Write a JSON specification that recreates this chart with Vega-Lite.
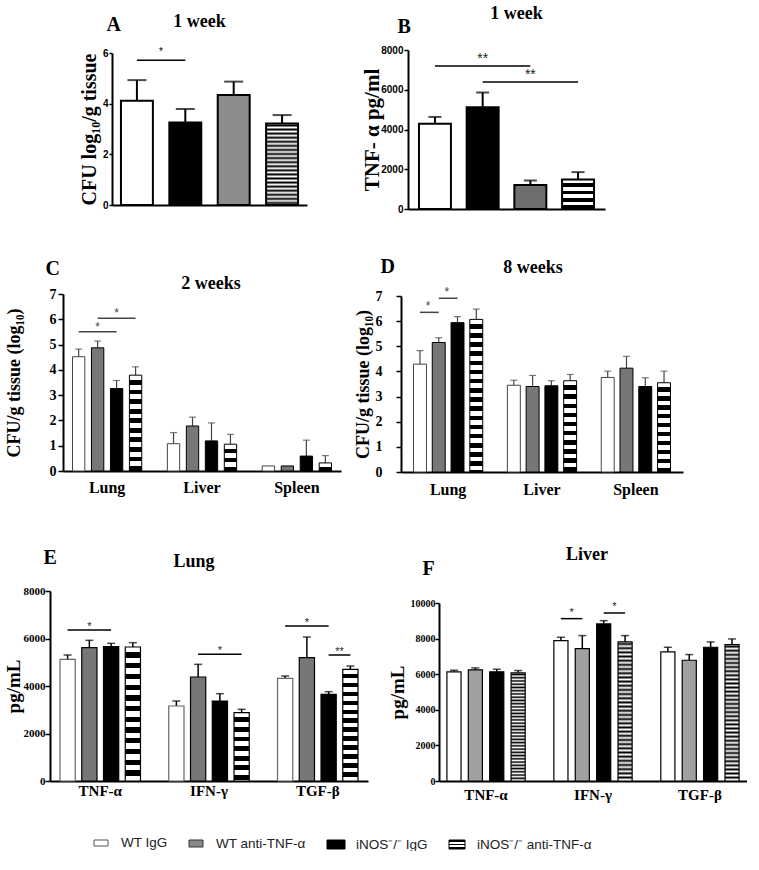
{
"$schema":"https://vega.github.io/schema/vega-lite/v6.json",
"padding":{"left":0,"top":5,"right":0,"bottom":0},
"config":{"view":{"stroke":null},"font":"Liberation Serif",
 "axis":{"grid":false,"labelOverlap":false,"labelBound":false,"labelFlush":false,"domainColor":"#000","tickColor":"#000","labelColor":"#000","titleColor":"#000","labelFontWeight":"bold","titleFontWeight":"bold","titleFont":"Liberation Serif","labelFont":"Liberation Serif"},
 "title":{"font":"Liberation Serif","fontWeight":"bold","color":"#000","anchor":"middle","frame":"group"}},
"datasets":{
 "A":[{"t":"WT IgG","mean":4.12,"hi":4.93},{"t":"iNOS-/- IgG","mean":3.26,"hi":3.79},{"t":"WT anti-TNF-α","mean":4.34,"hi":4.87},{"t":"iNOS-/- anti-TNF-α","mean":3.22,"hi":3.55}],
 "A_sig":[{"from":"WT IgG","to":"iNOS-/- IgG","y":5.71,"label":"*","after":"WT IgG"}],
 "B":[{"t":"WT IgG","mean":4295,"hi":4632},{"t":"iNOS-/- IgG","mean":5120,"hi":5861},{"t":"WT anti-TNF-α","mean":1213,"hi":1435},{"t":"iNOS-/- anti-TNF-α","mean":1486,"hi":1855}],
 "B_sig":[{"from":"WT IgG","to":"WT anti-TNF-α","y":7196,"label":"**","over":"iNOS-/- IgG"},{"from":"iNOS-/- IgG","to":"iNOS-/- anti-TNF-α","y":6388,"label":"**","over":"WT anti-TNF-α"}],
 "C":[
  {"bar":"Lung|1","t":"WT IgG","mean":4.52,"hi":4.82},{"bar":"Lung|2","t":"WT anti-TNF-α","mean":4.87,"hi":5.14},{"bar":"Lung|3","t":"iNOS-/- IgG","mean":3.26,"hi":3.58},{"bar":"Lung|4","t":"iNOS-/- anti-TNF-α","mean":3.79,"hi":4.12},
  {"bar":"Liver|1","t":"WT IgG","mean":1.08,"hi":1.52},{"bar":"Liver|2","t":"WT anti-TNF-α","mean":1.78,"hi":2.13},{"bar":"Liver|3","t":"iNOS-/- IgG","mean":1.19,"hi":1.9},{"bar":"Liver|4","t":"iNOS-/- anti-TNF-α","mean":1.06,"hi":1.45},
  {"bar":"Spleen|1","t":"WT IgG","mean":0.2,"hi":0.2},{"bar":"Spleen|2","t":"WT anti-TNF-α","mean":0.2,"hi":0.2},{"bar":"Spleen|3","t":"iNOS-/- IgG","mean":0.59,"hi":1.22},{"bar":"Spleen|4","t":"iNOS-/- anti-TNF-α","mean":0.32,"hi":0.61}],
 "C_sig":[{"from":"Lung|1","to":"Lung|3","y":5.51,"label":"*","over":"Lung|2"},{"from":"Lung|2","to":"Lung|4","y":6.04,"label":"*","over":"Lung|3"}],
 "D":[
  {"bar":"Lung|1","t":"WT IgG","mean":4.29,"hi":4.83},{"bar":"Lung|2","t":"WT anti-TNF-α","mean":5.15,"hi":5.34},{"bar":"Lung|3","t":"iNOS-/- IgG","mean":5.94,"hi":6.18},{"bar":"Lung|4","t":"iNOS-/- anti-TNF-α","mean":6.07,"hi":6.48},
  {"bar":"Liver|1","t":"WT IgG","mean":3.45,"hi":3.65},{"bar":"Liver|2","t":"WT anti-TNF-α","mean":3.4,"hi":3.84},{"bar":"Liver|3","t":"iNOS-/- IgG","mean":3.43,"hi":3.63},{"bar":"Liver|4","t":"iNOS-/- anti-TNF-α","mean":3.63,"hi":3.88},
  {"bar":"Spleen|1","t":"WT IgG","mean":3.76,"hi":4.01},{"bar":"Spleen|2","t":"WT anti-TNF-α","mean":4.13,"hi":4.6},{"bar":"Spleen|3","t":"iNOS-/- IgG","mean":3.4,"hi":3.75},{"bar":"Spleen|4","t":"iNOS-/- anti-TNF-α","mean":3.55,"hi":4.01}],
 "D_sig":[{"from":"Lung|1","to":"Lung|2","y":6.35,"label":"*","after":"Lung|1"},{"from":"Lung|2","to":"Lung|3","y":6.91,"label":"*","after":"Lung|2"}],
 "E":[
  {"bar":"TNF-α|1","t":"WT IgG","mean":5123,"hi":5305},{"bar":"TNF-α|2","t":"WT anti-TNF-α","mean":5614,"hi":5923},{"bar":"TNF-α|3","t":"iNOS-/- IgG","mean":5656,"hi":5796},{"bar":"TNF-α|4","t":"iNOS-/- anti-TNF-α","mean":5642,"hi":5825},
  {"bar":"IFN-γ|1","t":"WT IgG","mean":3158,"hi":3368},{"bar":"IFN-γ|2","t":"WT anti-TNF-α","mean":4379,"hi":4912},{"bar":"IFN-γ|3","t":"iNOS-/- IgG","mean":3368,"hi":3677},{"bar":"IFN-γ|4","t":"iNOS-/- anti-TNF-α","mean":2877,"hi":3018},
  {"bar":"TGF-β|1","t":"WT IgG","mean":4323,"hi":4421},{"bar":"TGF-β|2","t":"WT anti-TNF-α","mean":5193,"hi":6063},{"bar":"TGF-β|3","t":"iNOS-/- IgG","mean":3649,"hi":3761},{"bar":"TGF-β|4","t":"iNOS-/- anti-TNF-α","mean":4702,"hi":4842}],
 "E_sig":[{"from":"TNF-α|1","to":"TNF-α|3","y":6358,"label":"*","over":"TNF-α|2"},{"from":"IFN-γ|2","to":"IFN-γ|4","y":5333,"label":"*","over":"IFN-γ|3"},{"from":"TGF-β|1","to":"TGF-β|3","y":6526,"label":"*","over":"TGF-β|2"},{"from":"TGF-β|3","to":"TGF-β|4","y":5305,"label":"**","after":"TGF-β|3"}],
 "F":[
  {"bar":"TNF-α|1","t":"WT IgG","mean":6131,"hi":6224},{"bar":"TNF-α|2","t":"WT anti-TNF-α","mean":6243,"hi":6355},{"bar":"TNF-α|3","t":"iNOS-/- IgG","mean":6131,"hi":6280},{"bar":"TNF-α|4","t":"iNOS-/- anti-TNF-α","mean":6075,"hi":6206},
  {"bar":"IFN-γ|1","t":"WT IgG","mean":7888,"hi":8075},{"bar":"IFN-γ|2","t":"WT anti-TNF-α","mean":7439,"hi":8168},{"bar":"IFN-γ|3","t":"iNOS-/- IgG","mean":8822,"hi":9009},{"bar":"IFN-γ|4","t":"iNOS-/- anti-TNF-α","mean":7813,"hi":8168},
  {"bar":"TGF-β|1","t":"WT IgG","mean":7252,"hi":7514},{"bar":"TGF-β|2","t":"WT anti-TNF-α","mean":6785,"hi":7103},{"bar":"TGF-β|3","t":"iNOS-/- IgG","mean":7514,"hi":7813},{"bar":"TGF-β|4","t":"iNOS-/- anti-TNF-α","mean":7664,"hi":7981}],
 "F_sig":[{"from":"IFN-γ|1","to":"IFN-γ|2","y":9121,"label":"*","after":"IFN-γ|1"},{"from":"IFN-γ|3","to":"IFN-γ|4","y":9439,"label":"*","after":"IFN-γ|3"}]
},
"spacing":42,
"vconcat":[
 {"bounds":"flush","spacing":0,"hconcat":[
  {"width":112,"height":1,"data":{"values":[]},"mark":"rect","encoding":{}},
  {"width":195,"height":155,
   "title":{"text":"1 week","dx":-10,"dy":31,"offset":0,"baseline":"alphabetic","fontSize":18},
   "data":{"name":"A"},
   "layer":[
    {"transform":[{"filter":"datum.hi>datum.mean"}],"mark":{"type":"rule","strokeWidth":2,"color":"#000"},
     "encoding":{
      "x":{"field":"t","type":"nominal","scale":{"domain":["WT IgG","iNOS-/- IgG","WT anti-TNF-α","iNOS-/- anti-TNF-α"],"paddingInner":0.34,"paddingOuter":0.185},
           "axis":{"labels":false,"ticks":false,"domainWidth":2,"title":"A","titleX":-6,"titleY":-175,"titleAngle":0,"titleAlign":"left","titleBaseline":"alphabetic","titleFontSize":20}},
      "y":{"field":"mean","type":"quantitative","scale":{"domain":[0,6],"range":[155,3],"nice":false},
           "axis":{"values":[0,2,4,6],"tickCount":20,"labelOverlap":false,"format":"d","title":"CFU log₁₀/g tissue","titleFontSize":20,"titleX":-17,"titleBaseline":"alphabetic","labelFont":"Liberation Sans","labelFontSize":10,"tickSize":3,"labelPadding":1,"domainWidth":2,"tickWidth":1.5}},
      "y2":{"field":"hi"}}},
    {"transform":[{"filter":"datum.hi>datum.mean"}],"mark":{"type":"tick","size":19,"thickness":2,"color":"#000"},"encoding":{"x":{"field":"t","type":"nominal"},"y":{"field":"hi","type":"quantitative"}}},
    {"transform":[{"filter":"datum.t=='WT IgG'"}],"mark":{"type":"bar","fill":"#fff","stroke":"#000","strokeWidth":2},"encoding":{"x":{"field":"t","type":"nominal"},"y":{"field":"mean","type":"quantitative"}}},
    {"transform":[{"filter":"datum.t=='iNOS-/- IgG'"}],"mark":{"type":"bar","fill":"#000","stroke":"#000","strokeWidth":2},"encoding":{"x":{"field":"t","type":"nominal"},"y":{"field":"mean","type":"quantitative"}}},
    {"transform":[{"filter":"datum.t=='WT anti-TNF-α'"}],"mark":{"type":"bar","fill":"#8c8c8c","stroke":"#000","strokeWidth":2},"encoding":{"x":{"field":"t","type":"nominal"},"y":{"field":"mean","type":"quantitative"}}},
    {"transform":[{"filter":"datum.t=='iNOS-/- anti-TNF-α'"}],"mark":{"type":"bar","stroke":"#000","strokeWidth":2,"fill":{"gradient":"linear","x1":0,"y1":0,"x2":0,"y2":1,"stops":[{"offset":0,"color":"#fff"},{"offset":0.025,"color":"#000"},{"offset":0.05,"color":"#fff"},{"offset":0.075,"color":"#000"},{"offset":0.1,"color":"#fff"},{"offset":0.125,"color":"#000"},{"offset":0.15,"color":"#fff"},{"offset":0.175,"color":"#000"},{"offset":0.2,"color":"#fff"},{"offset":0.225,"color":"#000"},{"offset":0.25,"color":"#fff"},{"offset":0.275,"color":"#000"},{"offset":0.3,"color":"#fff"},{"offset":0.325,"color":"#000"},{"offset":0.35,"color":"#fff"},{"offset":0.375,"color":"#000"},{"offset":0.4,"color":"#fff"},{"offset":0.425,"color":"#000"},{"offset":0.45,"color":"#fff"},{"offset":0.475,"color":"#000"},{"offset":0.5,"color":"#fff"},{"offset":0.525,"color":"#000"},{"offset":0.55,"color":"#fff"},{"offset":0.575,"color":"#000"},{"offset":0.6,"color":"#fff"},{"offset":0.625,"color":"#000"},{"offset":0.65,"color":"#fff"},{"offset":0.675,"color":"#000"},{"offset":0.7,"color":"#fff"},{"offset":0.725,"color":"#000"},{"offset":0.75,"color":"#fff"},{"offset":0.775,"color":"#000"},{"offset":0.8,"color":"#fff"},{"offset":0.825,"color":"#000"},{"offset":0.85,"color":"#fff"},{"offset":0.875,"color":"#000"},{"offset":0.9,"color":"#fff"},{"offset":0.925,"color":"#000"},{"offset":0.95,"color":"#fff"},{"offset":0.975,"color":"#000"},{"offset":1,"color":"#fff"}]}},"encoding":{"x":{"field":"t","type":"nominal"},"y":{"field":"mean","type":"quantitative"}}},
    {"data":{"name":"A_sig"},"mark":{"type":"rule","strokeWidth":1.5,"color":"#000"},"encoding":{"x":{"field":"from","type":"nominal","bandPosition":0.5},"x2":{"field":"to","bandPosition":0.5},"y":{"field":"y","type":"quantitative"}}},
    {"data":{"name":"A_sig"},"transform":[{"filter":"isValid(datum.after)"}],"mark":{"type":"text","baseline":"alphabetic","dx":24,"dy":-5,"font":"Liberation Sans","fontSize":10,"color":"#000"},"encoding":{"x":{"field":"after","type":"nominal"},"y":{"field":"y","type":"quantitative"},"text":{"field":"label"}}}
   ]},
  {"width":101,"height":1,"data":{"values":[]},"mark":"rect","encoding":{}},
  {"width":197,"height":159,
   "title":{"text":"1 week","dx":10,"dy":21,"offset":0,"baseline":"alphabetic","fontSize":18},
   "data":{"name":"B"},
   "layer":[
    {"transform":[{"filter":"datum.hi>datum.mean"}],"mark":{"type":"rule","strokeWidth":2,"color":"#000"},
     "encoding":{
      "x":{"field":"t","type":"nominal","scale":{"domain":["WT IgG","iNOS-/- IgG","WT anti-TNF-α","iNOS-/- anti-TNF-α"],"paddingInner":0.33,"paddingOuter":0.23},
           "axis":{"labels":false,"ticks":false,"domainWidth":2,"title":"B","titleX":-11,"titleY":-177,"titleAngle":0,"titleAlign":"left","titleBaseline":"alphabetic","titleFontSize":20}},
      "y":{"field":"mean","type":"quantitative","scale":{"domain":[0,8000],"nice":false},
           "axis":{"values":[0,2000,4000,6000,8000],"tickCount":20,"format":"d","title":"TNF- α pg/ml","titleFontSize":21,"titleX":-30,"titleBaseline":"alphabetic","labelFont":"Liberation Sans","labelFontSize":10,"tickSize":4,"labelPadding":1,"domainWidth":2,"tickWidth":1.5}},
      "y2":{"field":"hi"}}},
    {"transform":[{"filter":"datum.hi>datum.mean"}],"mark":{"type":"tick","size":13,"thickness":2,"color":"#000"},"encoding":{"x":{"field":"t","type":"nominal"},"y":{"field":"hi","type":"quantitative"}}},
    {"transform":[{"filter":"datum.t=='WT IgG'"}],"mark":{"type":"bar","fill":"#fff","stroke":"#000","strokeWidth":2},"encoding":{"x":{"field":"t","type":"nominal"},"y":{"field":"mean","type":"quantitative"}}},
    {"transform":[{"filter":"datum.t=='iNOS-/- IgG'"}],"mark":{"type":"bar","fill":"#000","stroke":"#000","strokeWidth":2},"encoding":{"x":{"field":"t","type":"nominal"},"y":{"field":"mean","type":"quantitative"}}},
    {"transform":[{"filter":"datum.t=='WT anti-TNF-α'"}],"mark":{"type":"bar","fill":"#6e6e6e","stroke":"#000","strokeWidth":2},"encoding":{"x":{"field":"t","type":"nominal"},"y":{"field":"mean","type":"quantitative"}}},
    {"transform":[{"filter":"datum.t=='iNOS-/- anti-TNF-α'"}],"mark":{"type":"bar","stroke":"#000","strokeWidth":2,"fill":{"gradient":"linear","x1":0,"y1":0,"x2":0,"y2":1,"stops":[{"offset":0,"color":"#fff"},{"offset":0.125,"color":"#fff"},{"offset":0.125,"color":"#000"},{"offset":0.25,"color":"#000"},{"offset":0.25,"color":"#fff"},{"offset":0.375,"color":"#fff"},{"offset":0.375,"color":"#000"},{"offset":0.5,"color":"#000"},{"offset":0.5,"color":"#fff"},{"offset":0.625,"color":"#fff"},{"offset":0.625,"color":"#000"},{"offset":0.75,"color":"#000"},{"offset":0.75,"color":"#fff"},{"offset":0.875,"color":"#fff"},{"offset":0.875,"color":"#000"},{"offset":1,"color":"#000"}]}},"encoding":{"x":{"field":"t","type":"nominal"},"y":{"field":"mean","type":"quantitative"}}},
    {"data":{"name":"B_sig"},"mark":{"type":"rule","strokeWidth":1.5,"color":"#000"},"encoding":{"x":{"field":"from","type":"nominal","bandPosition":0.5},"x2":{"field":"to","bandPosition":0.5},"y":{"field":"y","type":"quantitative"}}},
    {"data":{"name":"B_sig"},"mark":{"type":"text","baseline":"alphabetic","dy":-3,"font":"Liberation Sans","fontSize":14,"color":"#222"},"encoding":{"x":{"field":"over","type":"nominal"},"y":{"field":"y","type":"quantitative"},"text":{"field":"label"}}}
   ]}
 ]},
 {"spacing":49,"vconcat":[
 {"bounds":"flush","spacing":0,"hconcat":[
  {"width":63,"height":1,"data":{"values":[]},"mark":"rect","encoding":{}},
  {"width":278,"height":177,
   "title":{"text":"2 weeks","dx":9,"dy":49,"offset":0,"baseline":"alphabetic","fontSize":18},
   "data":{"name":"C"},
   "layer":[
    {"transform":[{"filter":"datum.hi>datum.mean"}],"mark":{"type":"rule","strokeWidth":1.2,"color":"#444"},
     "encoding":{
      "x":{"field":"bar","type":"nominal","scale":{"domain":["Lung|1","Lung|2","Lung|3","Lung|4","_a","Liver|1","Liver|2","Liver|3","Liver|4","_b","Spleen|1","Spleen|2","Spleen|3","Spleen|4"],"paddingInner":0.35,"paddingOuter":0.5},
           "axis":{"labelExpr":"indexof(datum.value,'|2')>0 ? split(datum.value,'|')[0] : ''","labelOffset":9.5,"labelAngle":0,"ticks":false,"labelFontSize":16,"labelPadding":8,"domainWidth":2,"title":"C","titleX":-18,"titleY":-197,"titleAngle":0,"titleAlign":"left","titleBaseline":"alphabetic","titleFontSize":20}},
      "y":{"field":"mean","type":"quantitative","scale":{"domain":[0,7],"nice":false},
           "axis":{"values":[0,1,2,3,4,5,6,7],"tickCount":20,"format":"d","title":"CFU/g tissue (log₁₀)","titleFontSize":18,"titleX":-44,"titleBaseline":"alphabetic","labelFontSize":14,"tickSize":5,"labelPadding":2,"domainWidth":2,"tickWidth":1.5}},
      "y2":{"field":"hi"}}},
    {"transform":[{"filter":"datum.hi>datum.mean"}],"mark":{"type":"tick","size":7,"thickness":1.2,"color":"#444"},"encoding":{"x":{"field":"bar","type":"nominal"},"y":{"field":"hi","type":"quantitative"}}},
    {"transform":[{"filter":"datum.t=='WT IgG'"}],"mark":{"type":"bar","fill":"#fff","stroke":"#444","strokeWidth":1},"encoding":{"x":{"field":"bar","type":"nominal"},"y":{"field":"mean","type":"quantitative"}}},
    {"transform":[{"filter":"datum.t=='iNOS-/- IgG'"}],"mark":{"type":"bar","fill":"#000","stroke":"#000","strokeWidth":1},"encoding":{"x":{"field":"bar","type":"nominal"},"y":{"field":"mean","type":"quantitative"}}},
    {"transform":[{"filter":"datum.t=='WT anti-TNF-α'"}],"mark":{"type":"bar","fill":"#777","stroke":"#000","strokeWidth":1},"encoding":{"x":{"field":"bar","type":"nominal"},"y":{"field":"mean","type":"quantitative"}}},
    {"transform":[{"filter":"datum.bar=='Lung|4'"}],"mark":{"type":"bar","stroke":"#000","strokeWidth":1,"fill":{"gradient":"linear","x1":0,"y1":0,"x2":0,"y2":1,"stops":[{"offset":0,"color":"#fff"},{"offset":0.05,"color":"#fff"},{"offset":0.05,"color":"#000"},{"offset":0.1,"color":"#000"},{"offset":0.1,"color":"#fff"},{"offset":0.15,"color":"#fff"},{"offset":0.15,"color":"#000"},{"offset":0.2,"color":"#000"},{"offset":0.2,"color":"#fff"},{"offset":0.25,"color":"#fff"},{"offset":0.25,"color":"#000"},{"offset":0.3,"color":"#000"},{"offset":0.3,"color":"#fff"},{"offset":0.35,"color":"#fff"},{"offset":0.35,"color":"#000"},{"offset":0.4,"color":"#000"},{"offset":0.4,"color":"#fff"},{"offset":0.45,"color":"#fff"},{"offset":0.45,"color":"#000"},{"offset":0.5,"color":"#000"},{"offset":0.5,"color":"#fff"},{"offset":0.55,"color":"#fff"},{"offset":0.55,"color":"#000"},{"offset":0.6,"color":"#000"},{"offset":0.6,"color":"#fff"},{"offset":0.65,"color":"#fff"},{"offset":0.65,"color":"#000"},{"offset":0.7,"color":"#000"},{"offset":0.7,"color":"#fff"},{"offset":0.75,"color":"#fff"},{"offset":0.75,"color":"#000"},{"offset":0.8,"color":"#000"},{"offset":0.8,"color":"#fff"},{"offset":0.85,"color":"#fff"},{"offset":0.85,"color":"#000"},{"offset":0.9,"color":"#000"},{"offset":0.9,"color":"#fff"},{"offset":0.95,"color":"#fff"},{"offset":0.95,"color":"#000"},{"offset":1,"color":"#000"}]}},"encoding":{"x":{"field":"bar","type":"nominal"},"y":{"field":"mean","type":"quantitative"}}},
    {"transform":[{"filter":"datum.bar=='Liver|4'"}],"mark":{"type":"bar","stroke":"#000","strokeWidth":1,"fill":{"gradient":"linear","x1":0,"y1":0,"x2":0,"y2":1,"stops":[{"offset":0,"color":"#fff"},{"offset":0.1667,"color":"#fff"},{"offset":0.1667,"color":"#000"},{"offset":0.3333,"color":"#000"},{"offset":0.3333,"color":"#fff"},{"offset":0.5,"color":"#fff"},{"offset":0.5,"color":"#000"},{"offset":0.6667,"color":"#000"},{"offset":0.6667,"color":"#fff"},{"offset":0.8333,"color":"#fff"},{"offset":0.8333,"color":"#000"},{"offset":1,"color":"#000"}]}},"encoding":{"x":{"field":"bar","type":"nominal"},"y":{"field":"mean","type":"quantitative"}}},
    {"transform":[{"filter":"datum.bar=='Spleen|4'"}],"mark":{"type":"bar","stroke":"#000","strokeWidth":1,"fill":{"gradient":"linear","x1":0,"y1":0,"x2":0,"y2":1,"stops":[{"offset":0,"color":"#fff"},{"offset":0.5,"color":"#fff"},{"offset":0.5,"color":"#000"},{"offset":1,"color":"#000"}]}},"encoding":{"x":{"field":"bar","type":"nominal"},"y":{"field":"mean","type":"quantitative"}}},
    {"data":{"name":"C_sig"},"mark":{"type":"rule","strokeWidth":1.5,"color":"#444"},"encoding":{"x":{"field":"from","type":"nominal","bandPosition":0.5},"x2":{"field":"to","bandPosition":0.5},"y":{"field":"y","type":"quantitative"}}},
    {"data":{"name":"C_sig"},"mark":{"type":"text","baseline":"alphabetic","dy":-1,"font":"Liberation Sans","fontSize":12,"color":"#444"},"encoding":{"x":{"field":"over","type":"nominal"},"y":{"field":"y","type":"quantitative"},"text":{"field":"label"}}}
   ]},
  {"width":60,"height":1,"data":{"values":[]},"mark":"rect","encoding":{}},
  {"width":282,"height":178,
   "title":{"text":"8 weeks","dx":-9,"dy":35,"offset":0,"baseline":"alphabetic","fontSize":18},
   "data":{"name":"D"},
   "layer":[
    {"transform":[{"filter":"datum.hi>datum.mean"}],"mark":{"type":"rule","strokeWidth":1.2,"color":"#444"},
     "encoding":{
      "x":{"field":"bar","type":"nominal","scale":{"domain":["Lung|1","Lung|2","Lung|3","Lung|4","_a","Liver|1","Liver|2","Liver|3","Liver|4","_b","Spleen|1","Spleen|2","Spleen|3","Spleen|4"],"paddingInner":0.31,"paddingOuter":0.665},
           "axis":{"labelExpr":"indexof(datum.value,'|2')>0 ? split(datum.value,'|')[0] : ''","labelOffset":9.4,"labelAngle":0,"ticks":false,"labelFontSize":16,"labelPadding":9,"domainWidth":2,"title":"D","titleX":-21,"titleY":-200,"titleAngle":0,"titleAlign":"left","titleBaseline":"alphabetic","titleFontSize":20}},
      "y":{"field":"mean","type":"quantitative","scale":{"domain":[0,7],"range":[178,2],"nice":false},
           "axis":{"values":[0,1,2,3,4,5,6,7],"tickCount":20,"format":"d","title":"CFU/g tissue (log₁₀)","titleFontSize":18,"titleX":-33,"titleBaseline":"alphabetic","labelFontSize":14,"tickSize":5,"labelPadding":14,"domainWidth":2,"tickWidth":1.5}},
      "y2":{"field":"hi"}}},
    {"transform":[{"filter":"datum.hi>datum.mean"}],"mark":{"type":"tick","size":7,"thickness":1.2,"color":"#444"},"encoding":{"x":{"field":"bar","type":"nominal"},"y":{"field":"hi","type":"quantitative"}}},
    {"transform":[{"filter":"datum.t=='WT IgG'"}],"mark":{"type":"bar","fill":"#fff","stroke":"#444","strokeWidth":1},"encoding":{"x":{"field":"bar","type":"nominal"},"y":{"field":"mean","type":"quantitative"}}},
    {"transform":[{"filter":"datum.t=='iNOS-/- IgG'"}],"mark":{"type":"bar","fill":"#000","stroke":"#000","strokeWidth":1},"encoding":{"x":{"field":"bar","type":"nominal"},"y":{"field":"mean","type":"quantitative"}}},
    {"transform":[{"filter":"datum.t=='WT anti-TNF-α'"}],"mark":{"type":"bar","fill":"#777","stroke":"#000","strokeWidth":1},"encoding":{"x":{"field":"bar","type":"nominal"},"y":{"field":"mean","type":"quantitative"}}},
    {"transform":[{"filter":"datum.bar=='Lung|4'"}],"mark":{"type":"bar","stroke":"#000","strokeWidth":1,"fill":{"gradient":"linear","x1":0,"y1":0,"x2":0,"y2":1,"stops":[{"offset":0,"color":"#fff"},{"offset":0.03,"color":"#fff"},{"offset":0.03,"color":"#000"},{"offset":0.06,"color":"#000"},{"offset":0.06,"color":"#fff"},{"offset":0.09,"color":"#fff"},{"offset":0.09,"color":"#000"},{"offset":0.12,"color":"#000"},{"offset":0.12,"color":"#fff"},{"offset":0.15,"color":"#fff"},{"offset":0.15,"color":"#000"},{"offset":0.18,"color":"#000"},{"offset":0.18,"color":"#fff"},{"offset":0.21,"color":"#fff"},{"offset":0.21,"color":"#000"},{"offset":0.24,"color":"#000"},{"offset":0.24,"color":"#fff"},{"offset":0.27,"color":"#fff"},{"offset":0.27,"color":"#000"},{"offset":0.3,"color":"#000"},{"offset":0.3,"color":"#fff"},{"offset":0.33,"color":"#fff"},{"offset":0.33,"color":"#000"},{"offset":0.36,"color":"#000"},{"offset":0.36,"color":"#fff"},{"offset":0.39,"color":"#fff"},{"offset":0.39,"color":"#000"},{"offset":0.42,"color":"#000"},{"offset":0.42,"color":"#fff"},{"offset":0.45,"color":"#fff"},{"offset":0.45,"color":"#000"},{"offset":0.48,"color":"#000"},{"offset":0.48,"color":"#fff"},{"offset":0.51,"color":"#fff"},{"offset":0.51,"color":"#000"},{"offset":0.54,"color":"#000"},{"offset":0.54,"color":"#fff"},{"offset":0.57,"color":"#fff"},{"offset":0.57,"color":"#000"},{"offset":0.6,"color":"#000"},{"offset":0.6,"color":"#fff"},{"offset":0.63,"color":"#fff"},{"offset":0.63,"color":"#000"},{"offset":0.66,"color":"#000"},{"offset":0.66,"color":"#fff"},{"offset":0.69,"color":"#fff"},{"offset":0.69,"color":"#000"},{"offset":0.72,"color":"#000"},{"offset":0.72,"color":"#fff"},{"offset":0.75,"color":"#fff"},{"offset":0.75,"color":"#000"},{"offset":0.78,"color":"#000"},{"offset":0.78,"color":"#fff"},{"offset":0.81,"color":"#fff"},{"offset":0.81,"color":"#000"},{"offset":0.84,"color":"#000"},{"offset":0.84,"color":"#fff"},{"offset":0.87,"color":"#fff"},{"offset":0.87,"color":"#000"},{"offset":0.9,"color":"#000"},{"offset":0.9,"color":"#fff"},{"offset":0.93,"color":"#fff"},{"offset":0.93,"color":"#000"},{"offset":0.96,"color":"#000"},{"offset":0.96,"color":"#fff"},{"offset":0.99,"color":"#fff"},{"offset":0.99,"color":"#000"},{"offset":1,"color":"#000"}]}},"encoding":{"x":{"field":"bar","type":"nominal"},"y":{"field":"mean","type":"quantitative"}}},
    {"transform":[{"filter":{"field":"bar","oneOf":["Liver|4","Spleen|4"]}}],"mark":{"type":"bar","stroke":"#000","strokeWidth":1,"fill":{"gradient":"linear","x1":0,"y1":0,"x2":0,"y2":1,"stops":[{"offset":0,"color":"#fff"},{"offset":0.05,"color":"#fff"},{"offset":0.05,"color":"#000"},{"offset":0.1,"color":"#000"},{"offset":0.1,"color":"#fff"},{"offset":0.15,"color":"#fff"},{"offset":0.15,"color":"#000"},{"offset":0.2,"color":"#000"},{"offset":0.2,"color":"#fff"},{"offset":0.25,"color":"#fff"},{"offset":0.25,"color":"#000"},{"offset":0.3,"color":"#000"},{"offset":0.3,"color":"#fff"},{"offset":0.35,"color":"#fff"},{"offset":0.35,"color":"#000"},{"offset":0.4,"color":"#000"},{"offset":0.4,"color":"#fff"},{"offset":0.45,"color":"#fff"},{"offset":0.45,"color":"#000"},{"offset":0.5,"color":"#000"},{"offset":0.5,"color":"#fff"},{"offset":0.55,"color":"#fff"},{"offset":0.55,"color":"#000"},{"offset":0.6,"color":"#000"},{"offset":0.6,"color":"#fff"},{"offset":0.65,"color":"#fff"},{"offset":0.65,"color":"#000"},{"offset":0.7,"color":"#000"},{"offset":0.7,"color":"#fff"},{"offset":0.75,"color":"#fff"},{"offset":0.75,"color":"#000"},{"offset":0.8,"color":"#000"},{"offset":0.8,"color":"#fff"},{"offset":0.85,"color":"#fff"},{"offset":0.85,"color":"#000"},{"offset":0.9,"color":"#000"},{"offset":0.9,"color":"#fff"},{"offset":0.95,"color":"#fff"},{"offset":0.95,"color":"#000"},{"offset":1,"color":"#000"}]}},"encoding":{"x":{"field":"bar","type":"nominal"},"y":{"field":"mean","type":"quantitative"}}},
    {"data":{"name":"D_sig"},"mark":{"type":"rule","strokeWidth":1.5,"color":"#444"},"encoding":{"x":{"field":"from","type":"nominal","bandPosition":0.5},"x2":{"field":"to","bandPosition":0.5},"y":{"field":"y","type":"quantitative"}}},
    {"data":{"name":"D_sig"},"mark":{"type":"text","baseline":"alphabetic","dx":8,"dy":-2,"font":"Liberation Sans","fontSize":12,"color":"#444"},"encoding":{"x":{"field":"after","type":"nominal"},"y":{"field":"y","type":"quantitative"},"text":{"field":"label"}}}
   ]}
 ]},
 {"spacing":34,"vconcat":[
 {"bounds":"flush","spacing":0,"hconcat":[
  {"width":50,"height":1,"data":{"values":[]},"mark":"rect","encoding":{}},
  {"width":318,"height":190,
   "title":{"text":"Lung","dx":-15,"dy":38,"offset":0,"baseline":"alphabetic","fontSize":18},
   "data":{"name":"E"},
   "layer":[
    {"transform":[{"filter":"datum.hi>datum.mean"}],"mark":{"type":"rule","strokeWidth":1.5,"color":"#000"},
     "encoding":{
      "x":{"field":"bar","type":"nominal","scale":{"domain":["TNF-α|1","TNF-α|2","TNF-α|3","TNF-α|4","_a","IFN-γ|1","IFN-γ|2","IFN-γ|3","IFN-γ|4","_b","TGF-β|1","TGF-β|2","TGF-β|3","TGF-β|4"],"paddingInner":0.3,"paddingOuter":0.46},
           "axis":{"labelExpr":"indexof(datum.value,'|2')>0 ? split(datum.value,'|')[0] : ''","labelOffset":10.9,"labelAngle":0,"ticks":false,"labelFontSize":15,"labelPadding":2,"domainWidth":2,"title":"E","titleX":-7,"titleY":-218,"titleAngle":0,"titleAlign":"left","titleBaseline":"alphabetic","titleFontSize":20}},
      "y":{"field":"mean","type":"quantitative","scale":{"domain":[0,8000],"nice":false},
           "axis":{"values":[0,2000,4000,6000,8000],"tickCount":20,"format":"d","title":"pg/mL","titleFontSize":19,"titleX":-31,"titleBaseline":"alphabetic","labelFontSize":11,"tickSize":5,"labelPadding":0,"domainWidth":2,"tickWidth":1.5}},
      "y2":{"field":"hi"}}},
    {"transform":[{"filter":"datum.hi>datum.mean"}],"mark":{"type":"tick","size":8,"thickness":1.5,"color":"#000"},"encoding":{"x":{"field":"bar","type":"nominal"},"y":{"field":"hi","type":"quantitative"}}},
    {"transform":[{"filter":"datum.t=='WT IgG'"}],"mark":{"type":"bar","fill":"#fff","stroke":"#666","strokeWidth":1.2},"encoding":{"x":{"field":"bar","type":"nominal"},"y":{"field":"mean","type":"quantitative"}}},
    {"transform":[{"filter":"datum.t=='iNOS-/- IgG'"}],"mark":{"type":"bar","fill":"#000","stroke":"#000","strokeWidth":1.2},"encoding":{"x":{"field":"bar","type":"nominal"},"y":{"field":"mean","type":"quantitative"}}},
    {"transform":[{"filter":"datum.t=='WT anti-TNF-α'"}],"mark":{"type":"bar","fill":"#777","stroke":"#000","strokeWidth":1.2},"encoding":{"x":{"field":"bar","type":"nominal"},"y":{"field":"mean","type":"quantitative"}}},
    {"transform":[{"filter":{"field":"bar","oneOf":["TNF-α|4","TGF-β|4"]}}],"mark":{"type":"bar","stroke":"#000","strokeWidth":1.2,"fill":{"gradient":"linear","x1":0,"y1":0,"x2":0,"y2":1,"stops":[{"offset":0,"color":"#fff"},{"offset":0.04,"color":"#fff"},{"offset":0.04,"color":"#000"},{"offset":0.08,"color":"#000"},{"offset":0.08,"color":"#fff"},{"offset":0.12,"color":"#fff"},{"offset":0.12,"color":"#000"},{"offset":0.16,"color":"#000"},{"offset":0.16,"color":"#fff"},{"offset":0.2,"color":"#fff"},{"offset":0.2,"color":"#000"},{"offset":0.24,"color":"#000"},{"offset":0.24,"color":"#fff"},{"offset":0.28,"color":"#fff"},{"offset":0.28,"color":"#000"},{"offset":0.32,"color":"#000"},{"offset":0.32,"color":"#fff"},{"offset":0.36,"color":"#fff"},{"offset":0.36,"color":"#000"},{"offset":0.4,"color":"#000"},{"offset":0.4,"color":"#fff"},{"offset":0.44,"color":"#fff"},{"offset":0.44,"color":"#000"},{"offset":0.48,"color":"#000"},{"offset":0.48,"color":"#fff"},{"offset":0.52,"color":"#fff"},{"offset":0.52,"color":"#000"},{"offset":0.56,"color":"#000"},{"offset":0.56,"color":"#fff"},{"offset":0.6,"color":"#fff"},{"offset":0.6,"color":"#000"},{"offset":0.64,"color":"#000"},{"offset":0.64,"color":"#fff"},{"offset":0.68,"color":"#fff"},{"offset":0.68,"color":"#000"},{"offset":0.72,"color":"#000"},{"offset":0.72,"color":"#fff"},{"offset":0.76,"color":"#fff"},{"offset":0.76,"color":"#000"},{"offset":0.8,"color":"#000"},{"offset":0.8,"color":"#fff"},{"offset":0.84,"color":"#fff"},{"offset":0.84,"color":"#000"},{"offset":0.88,"color":"#000"},{"offset":0.88,"color":"#fff"},{"offset":0.92,"color":"#fff"},{"offset":0.92,"color":"#000"},{"offset":0.96,"color":"#000"},{"offset":0.96,"color":"#fff"},{"offset":1,"color":"#fff"}]}},"encoding":{"x":{"field":"bar","type":"nominal"},"y":{"field":"mean","type":"quantitative"}}},
    {"transform":[{"filter":"datum.bar=='IFN-γ|4'"}],"mark":{"type":"bar","stroke":"#000","strokeWidth":1.2,"fill":{"gradient":"linear","x1":0,"y1":0,"x2":0,"y2":1,"stops":[{"offset":0,"color":"#fff"},{"offset":0.07,"color":"#fff"},{"offset":0.07,"color":"#000"},{"offset":0.14,"color":"#000"},{"offset":0.14,"color":"#fff"},{"offset":0.21,"color":"#fff"},{"offset":0.21,"color":"#000"},{"offset":0.28,"color":"#000"},{"offset":0.28,"color":"#fff"},{"offset":0.35,"color":"#fff"},{"offset":0.35,"color":"#000"},{"offset":0.42,"color":"#000"},{"offset":0.42,"color":"#fff"},{"offset":0.49,"color":"#fff"},{"offset":0.49,"color":"#000"},{"offset":0.56,"color":"#000"},{"offset":0.56,"color":"#fff"},{"offset":0.63,"color":"#fff"},{"offset":0.63,"color":"#000"},{"offset":0.7,"color":"#000"},{"offset":0.7,"color":"#fff"},{"offset":0.77,"color":"#fff"},{"offset":0.77,"color":"#000"},{"offset":0.84,"color":"#000"},{"offset":0.84,"color":"#fff"},{"offset":0.91,"color":"#fff"},{"offset":0.91,"color":"#000"},{"offset":0.98,"color":"#000"},{"offset":0.98,"color":"#fff"},{"offset":1,"color":"#fff"}]}},"encoding":{"x":{"field":"bar","type":"nominal"},"y":{"field":"mean","type":"quantitative"}}},
    {"data":{"name":"E_sig"},"mark":{"type":"rule","strokeWidth":1.5,"color":"#000"},"encoding":{"x":{"field":"from","type":"nominal","bandPosition":0.5},"x2":{"field":"to","bandPosition":0.5},"y":{"field":"y","type":"quantitative"}}},
    {"data":{"name":"E_sig"},"transform":[{"filter":"isValid(datum.over)"}],"mark":{"type":"text","baseline":"alphabetic","dy":0,"font":"Liberation Sans","fontSize":11,"color":"#222"},"encoding":{"x":{"field":"over","type":"nominal"},"y":{"field":"y","type":"quantitative"},"text":{"field":"label"}}},
    {"data":{"name":"E_sig"},"transform":[{"filter":"isValid(datum.after)"}],"mark":{"type":"text","baseline":"alphabetic","dx":10.9,"dy":0,"font":"Liberation Sans","fontSize":11,"color":"#222"},"encoding":{"x":{"field":"after","type":"nominal"},"y":{"field":"y","type":"quantitative"},"text":{"field":"label"}}}
   ]},
  {"width":71,"height":1,"data":{"values":[]},"mark":"rect","encoding":{}},
  {"width":308,"height":190,
   "title":{"text":"Liver","dx":-6,"dy":20,"offset":0,"baseline":"alphabetic","fontSize":18},
   "data":{"name":"F"},
   "layer":[
    {"transform":[{"filter":"datum.hi>datum.mean"}],"mark":{"type":"rule","strokeWidth":1.5,"color":"#000"},
     "encoding":{
      "x":{"field":"bar","type":"nominal","scale":{"domain":["TNF-α|1","TNF-α|2","TNF-α|3","TNF-α|4","_a","IFN-γ|1","IFN-γ|2","IFN-γ|3","IFN-γ|4","_b","TGF-β|1","TGF-β|2","TGF-β|3","TGF-β|4"],"paddingInner":0.34,"paddingOuter":0.37},
           "axis":{"labelExpr":"indexof(datum.value,'|2')>0 ? split(datum.value,'|')[0] : ''","labelOffset":10.7,"labelAngle":0,"ticks":false,"labelFontSize":15,"labelPadding":6,"domainWidth":2,"title":"F","titleX":-17,"titleY":-207,"titleAngle":0,"titleAlign":"left","titleBaseline":"alphabetic","titleFontSize":20}},
      "y":{"field":"mean","type":"quantitative","scale":{"domain":[0,10000],"range":[190,12],"nice":false},
           "axis":{"values":[0,2000,4000,6000,8000,10000],"tickCount":20,"format":"d","title":"pg/mL","titleFontSize":19,"titleX":-36,"titleBaseline":"alphabetic","labelFontSize":10,"tickSize":4,"labelPadding":0,"domainWidth":2,"tickWidth":1.5}},
      "y2":{"field":"hi"}}},
    {"transform":[{"filter":"datum.hi>datum.mean"}],"mark":{"type":"tick","size":8,"thickness":1.5,"color":"#000"},"encoding":{"x":{"field":"bar","type":"nominal"},"y":{"field":"hi","type":"quantitative"}}},
    {"transform":[{"filter":"datum.t=='WT IgG'"}],"mark":{"type":"bar","fill":"#fff","stroke":"#000","strokeWidth":1.2},"encoding":{"x":{"field":"bar","type":"nominal"},"y":{"field":"mean","type":"quantitative"}}},
    {"transform":[{"filter":"datum.t=='iNOS-/- IgG'"}],"mark":{"type":"bar","fill":"#000","stroke":"#000","strokeWidth":1.2},"encoding":{"x":{"field":"bar","type":"nominal"},"y":{"field":"mean","type":"quantitative"}}},
    {"transform":[{"filter":"datum.t=='WT anti-TNF-α'"}],"mark":{"type":"bar","fill":"#a0a0a0","stroke":"#000","strokeWidth":1.2},"encoding":{"x":{"field":"bar","type":"nominal"},"y":{"field":"mean","type":"quantitative"}}},
    {"transform":[{"filter":"datum.t=='iNOS-/- anti-TNF-α'"}],"mark":{"type":"bar","stroke":"#000","strokeWidth":1.2,"fill":{"gradient":"linear","x1":0,"y1":0,"x2":0,"y2":1,"stops":[{"offset":0,"color":"#fff"},{"offset":0.015,"color":"#000"},{"offset":0.03,"color":"#fff"},{"offset":0.045,"color":"#000"},{"offset":0.06,"color":"#fff"},{"offset":0.075,"color":"#000"},{"offset":0.09,"color":"#fff"},{"offset":0.105,"color":"#000"},{"offset":0.12,"color":"#fff"},{"offset":0.135,"color":"#000"},{"offset":0.15,"color":"#fff"},{"offset":0.165,"color":"#000"},{"offset":0.18,"color":"#fff"},{"offset":0.195,"color":"#000"},{"offset":0.21,"color":"#fff"},{"offset":0.225,"color":"#000"},{"offset":0.24,"color":"#fff"},{"offset":0.255,"color":"#000"},{"offset":0.27,"color":"#fff"},{"offset":0.285,"color":"#000"},{"offset":0.3,"color":"#fff"},{"offset":0.315,"color":"#000"},{"offset":0.33,"color":"#fff"},{"offset":0.345,"color":"#000"},{"offset":0.36,"color":"#fff"},{"offset":0.375,"color":"#000"},{"offset":0.39,"color":"#fff"},{"offset":0.405,"color":"#000"},{"offset":0.42,"color":"#fff"},{"offset":0.435,"color":"#000"},{"offset":0.45,"color":"#fff"},{"offset":0.465,"color":"#000"},{"offset":0.48,"color":"#fff"},{"offset":0.495,"color":"#000"},{"offset":0.51,"color":"#fff"},{"offset":0.525,"color":"#000"},{"offset":0.54,"color":"#fff"},{"offset":0.555,"color":"#000"},{"offset":0.57,"color":"#fff"},{"offset":0.585,"color":"#000"},{"offset":0.6,"color":"#fff"},{"offset":0.615,"color":"#000"},{"offset":0.63,"color":"#fff"},{"offset":0.645,"color":"#000"},{"offset":0.66,"color":"#fff"},{"offset":0.675,"color":"#000"},{"offset":0.69,"color":"#fff"},{"offset":0.705,"color":"#000"},{"offset":0.72,"color":"#fff"},{"offset":0.735,"color":"#000"},{"offset":0.75,"color":"#fff"},{"offset":0.765,"color":"#000"},{"offset":0.78,"color":"#fff"},{"offset":0.795,"color":"#000"},{"offset":0.81,"color":"#fff"},{"offset":0.825,"color":"#000"},{"offset":0.84,"color":"#fff"},{"offset":0.855,"color":"#000"},{"offset":0.87,"color":"#fff"},{"offset":0.885,"color":"#000"},{"offset":0.9,"color":"#fff"},{"offset":0.915,"color":"#000"},{"offset":0.93,"color":"#fff"},{"offset":0.945,"color":"#000"},{"offset":0.96,"color":"#fff"},{"offset":0.975,"color":"#000"},{"offset":0.99,"color":"#fff"}]}},"encoding":{"x":{"field":"bar","type":"nominal"},"y":{"field":"mean","type":"quantitative"}}},
    {"data":{"name":"F_sig"},"mark":{"type":"rule","strokeWidth":1.5,"color":"#000"},"encoding":{"x":{"field":"from","type":"nominal","bandPosition":0.5},"x2":{"field":"to","bandPosition":0.5},"y":{"field":"y","type":"quantitative"}}},
    {"data":{"name":"F_sig"},"mark":{"type":"text","baseline":"alphabetic","dx":10.7,"dy":-3,"font":"Liberation Sans","fontSize":11,"color":"#222"},"encoding":{"x":{"field":"after","type":"nominal"},"y":{"field":"y","type":"quantitative"},"text":{"field":"label"}}}
   ]}
 ]},
 {"spacing":20,"hconcat":[
  {"width":73,"height":1,"data":{"values":[]},"mark":"rect","encoding":{}},
  {"width":14,"height":6,"data":{"values":[{"label":"WT IgG"}]},"layer":[
   {"mark":{"type":"rect","fill":"#fff","stroke":"#555","strokeWidth":1},"encoding":{}},
   {"mark":{"type":"text","align":"left","baseline":"middle","dx":20,"font":"Liberation Sans","fontSize":13.5,"fontWeight":"normal","color":"#222"},"encoding":{"text":{"field":"label"}}}]},
  {"width":14,"height":7,"data":{"values":[{"label":"WT anti-TNF-α"}]},"layer":[
   {"mark":{"type":"rect","fill":"#888","stroke":"#333","strokeWidth":1},"encoding":{}},
   {"mark":{"type":"text","align":"left","baseline":"middle","dx":20,"font":"Liberation Sans","fontSize":13.5,"fontWeight":"normal","color":"#222"},"encoding":{"text":{"field":"label"}}}]},
  {"width":18,"height":9,"data":{"values":[{"label":"iNOS⁻/⁻ IgG"}]},"layer":[
   {"mark":{"type":"rect","fill":"#000","stroke":"#000","strokeWidth":1},"encoding":{}},
   {"mark":{"type":"text","align":"left","baseline":"middle","dx":20,"font":"Liberation Sans","fontSize":13.5,"fontWeight":"normal","color":"#222"},"encoding":{"text":{"field":"label"}}}]},
  {"width":16,"height":9,"data":{"values":[{"label":"iNOS⁻/⁻ anti-TNF-α"}]},"layer":[
   {"mark":{"type":"rect","stroke":"#000","strokeWidth":1,"fill":{"gradient":"linear","x1":0,"y1":0,"x2":0,"y2":1,"stops":[{"offset":0,"color":"#000"},{"offset":0.2,"color":"#000"},{"offset":0.2,"color":"#fff"},{"offset":0.4,"color":"#fff"},{"offset":0.4,"color":"#000"},{"offset":0.6,"color":"#000"},{"offset":0.6,"color":"#fff"},{"offset":0.8,"color":"#fff"},{"offset":0.8,"color":"#000"},{"offset":1,"color":"#000"}]}},"encoding":{}},
   {"mark":{"type":"text","align":"left","baseline":"middle","dx":20,"font":"Liberation Sans","fontSize":13.5,"fontWeight":"normal","color":"#222"},"encoding":{"text":{"field":"label"}}}]}
 ]}
 ]}
 ]}
]
}
